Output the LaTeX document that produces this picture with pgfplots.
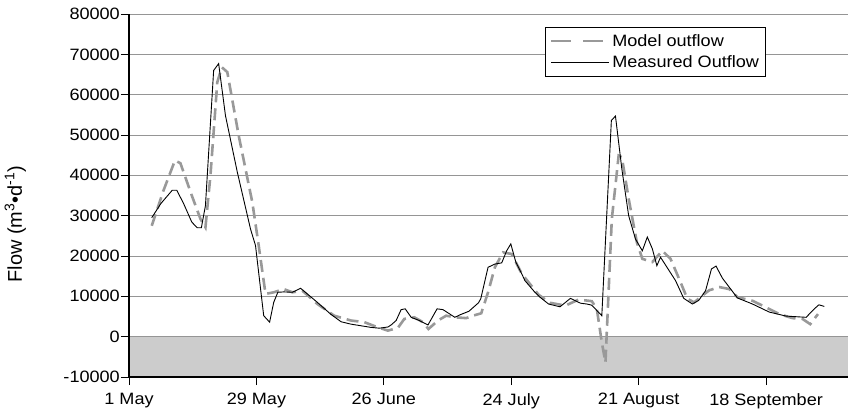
\documentclass[border=0pt]{standalone}
\usepackage{fontspec}
\setmainfont{Liberation Sans}[FakeStretch=1.1]
\newfontfamily\ylabfont{Liberation Sans}
\usepackage{pgfplots}
\pgfplotsset{compat=1.18}
\definecolor{modelgray}{HTML}{999999}
\definecolor{gridgray}{HTML}{959595}
\definecolor{negfill}{HTML}{CCCCCC}
\newcommand\chartfont{\fontsize{16.5}{19}\selectfont}
\begin{document}
\begin{tikzpicture}
\begin{axis}[
    set layers,
    scale only axis,
    width=719bp, height=363bp,
    xmin=0, xmax=158,
    ymin=-10000, ymax=80000,
    axis x line*=bottom,
    axis y line*=left,
    axis line style={black, line width=1.3bp},
    xtick={0,28,56,84,112,140},
    xticklabels={1 May,29 May,26 June,24 July,21 August,18 September},
    ytick={-10000,0,10000,20000,30000,40000,50000,60000,70000,80000},
    scaled y ticks=false,
    yticklabel style={/pgf/number format/1000 sep={}, inner xsep=1bp},
    xticklabel style={yshift=-5bp},
    /pgf/number format/assume math mode=true,
    tick label style={font=\chartfont},
    ymajorgrids,
    grid style={gridgray, line width=0.8bp},
    tick align=outside,
    major tick length=8bp,
    tick style={black, line width=0.8bp},
    ylabel={Flow (m\textsuperscript{3}•d\textsuperscript{-1})},
    ylabel style={font=\ylabfont\fontsize{20}{23}\selectfont,
        at={(axis description cs:-0.158,0.421)}, anchor=center},
    legend style={at={(axis description cs:0.579,0.964)}, anchor=north west,
        draw=black, line width=0.8bp, font=\chartfont,
        row sep=4bp, inner xsep=4bp, inner ysep=5bp},
    legend cell align=left,
    legend image code/.code={\draw[#1] (0bp,0bp) -- (52bp,0bp); \path (0bp,0bp) -- (58bp,0bp);},
]

% grey band below zero
\addplot[fill=negfill, draw=none, on layer=axis background, forget plot]
coordinates {(0,0) (158,0) (158,-10000) (0,-10000)} -- cycle;

\addplot[modelgray, line width=2.6bp, dash pattern=on 12bp off 6bp,
    legend image post style={dash pattern=on 20bp off 12bp}]
coordinates {
(5,27500)(7.5,36000)(10.1,43700)(11.3,43000)(13.8,35000)(15.7,29200)(16.8,27100)
(17.9,40000)(19.4,63100)(20.4,66800)(21.6,65600)(24.1,49900)(27.1,33300)(28.5,22600)
(30,10600)(31.8,11000)(34,11800)(35.9,11000)(38.1,11400)(41.4,8100)(45.1,5200)
(48.8,4000)(51.7,3600)(54.7,2300)(56.9,1500)(59.1,2200)(60.5,4400)(62.7,4800)
(64.6,3600)(65.8,1900)(67.9,4000)(69.7,5200)(71.6,4800)(74.1,4600)(75.6,5200)
(77.4,5800)(78.9,11000)(80.4,17200)(82.2,20900)(84.1,20500)(86.3,15600)(90,10400)
(92.5,8400)(95.9,7700)(98.8,9200)(101.7,8800)(102.8,6900)(103.9,-1400)(104.7,-6400)
(106.1,29200)(107.6,44900)(108.3,44500)(109.8,34200)(111.6,23400)(112.8,19300)
(115,18500)(117.2,21300)(119,19300)(120.9,14300)(122.7,9400)(124.2,8500)(126,10200)
(127.5,11500)(129.7,12300)(131.9,11800)(133.7,9800)(137,8900)(139.2,7700)(142.9,5600)
(145.8,4600)(148,4400)(149.7,3100)(151.4,5600)
};
\addlegendentry{Model outflow}

\addplot[black, line width=0.9bp, solid]
coordinates {
(5,29500)(7,33000)(9.5,36300)(10.5,36300)(12,33000)(13.8,28400)(15,27000)(15.9,27000)
(16.8,32500)(18.6,66000)(19.7,67700)(21.2,54800)(23.8,40800)(26.7,26700)(27.8,22600)
(29.6,5200)(30.9,3600)(31.8,8500)(32.7,11000)(34,11100)(35.9,11000)(37.7,12000)
(41.4,8500)(44.3,5600)(46.6,3700)(48.8,3100)(51,2700)(53.2,2300)(55,2100)(56.9,2400)
(57.6,2900)(58.7,4000)(59.8,6700)(60.7,6900)(62,4800)(63.8,4000)(65.7,2900)(67.7,6900)
(69,6700)(71.6,4800)(72.7,5400)(74.7,6300)(76.8,8400)(77.3,9400)(78.9,17200)
(80.4,18000)(81.9,18300)(83,21300)(83.9,23000)(85,18500)(86.3,15600)(87,13900)
(89.2,11000)(90.3,9800)(92.2,8100)(94.7,7400)(97,9500)(99.2,8300)(100.6,8100)
(101.7,7800)(103.9,5200)(106,53600)(106.9,54700)(108.3,41600)(109.8,30000)
(111.3,24200)(112.8,21300)(113.9,24700)(115,21800)(116,17600)(116.8,19700)
(120.1,13900)(121.9,9500)(123.8,8100)(125.2,9000)(126.7,11400)(128,16800)
(129,17500)(130.4,14500)(133.7,9600)(137,8100)(140.7,6100)(144.4,5100)(148.8,4800)
(150.6,6900)(151.6,7900)(152.8,7500)
};
\addlegendentry{Measured Outflow}
\end{axis}
% page frame matching the reference margins
\path ([xshift=-129bp,yshift=-40bp]current axis.south west) rectangle ++(857bp,417bp);
\end{tikzpicture}
\end{document}
